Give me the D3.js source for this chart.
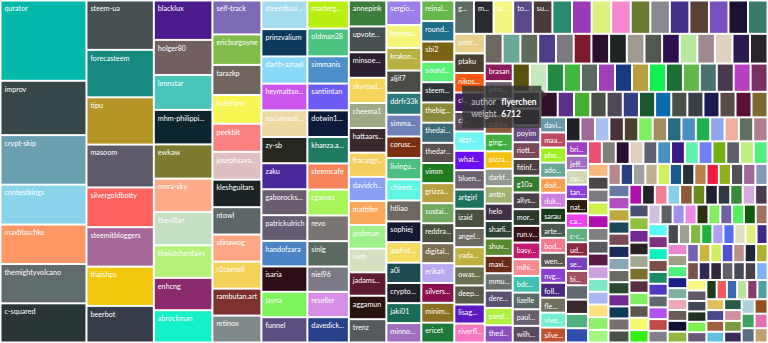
<!DOCTYPE html>
<html>
<head>
<script src="https://d3js.org/d3.v7.min.js"></script>
<style>
body { margin: 0; background: #fff; }
text { font-family: "Segoe UI", Lato, "Open Sans", sans-serif; }
</style>
</head>
<body>
<svg id="chart" width="768" height="343"></svg>
<script>
// label shown in each cell ("" = no label drawn), largest author first
const labels = [
  "qurator","improv","crypt-skip","contestkings","maxblaschke","themightyvolcano","c-squared",
  "steem-ua","forecasteem","tipu","masoom","silvergoldbotty","steemitbloggers","thaishps","beerbot",
  "blacklux","holger80","lennstar","mhm-philippi...","ewkaw","omra-sky","thevillan","thekitchenfairy","enhcng","abrockman",
  "self-track","ericburgoyne","tarazkp","botefarm","peekbit","josephsava...","kleshguitars","ntowl","stinawog","r2cornell","rambutan.art","retinox",
  "steembasi...","prinzvalium","darth-azrael","heymattso...","socialmedi...","zy-sb","zaku","gaborocks...","patrickulrich","handofzara","isaria","jayna","funnel",
  "masterg...","oldman28","simmanis","santiintan","dotwin1...","khanza.a...","steemcafe","cgames","revo","sinlg","niel96","reseller","davedick...",
  "annepink","upvote...","minsoe...","skyroad...","cheema1","hattaars...","fracasgr...","davidch...","mattifer","joshman","iven","jadams...","aggamun","trenz",
  "sergio...","heyims...","krakon...","aljif7","ddrfr33k","simma...","corusc...","livingu...","chireer...","htliao","sophiej","jpphot...","a0i","crypto...","jaki01","minno...",
  "reinal...","round...","sbi2","sound...","steem...","thebig...","thedai...","thedar...","vimm","grizza...","sustai...","reddra...","digital...","erikah","silvers...","minim...","ericet",
  "g...","m...","ar...","to...","su...","","","","","","","","","","","",
  "pedr...","ptaku","nikos...","cl...","cl...","aggr...","what...","bluen...","artgirl","izaid","angel...","yada...","owas...","deep...","lisag...","riverfl...",
  "","","","","","","","","","","","","","","","",
  "brasan","joha...","","zukha","ging...","pizza...","darkf...","anttn","helo","sharli...","shuv...","maxi...","mmu...","dere...","pand...","thed...",
  "","","","","","","","","","","","","","","",
  "","","poyim","riott...","fitinf...","g10a","allys...","mor...","run.v...","basy...","mihi...","bdc...","lizelle","paul...","wilh...",
  "","","","","","","","","","","","","","",
  "davi...","maa...","pbo...","ado...","doif...","duk...","sarau","arte...","bod...","wen...","nvg...","foll...","fle...","vive...","silve...",
  "","","","","","","","","","","","","","",
  "bri...","jeff...","jsp...","tan...","nat...","ca...","c-c...","ud...","se...","bi...","","","",""
];

const weights = [
  103850, 70300, 64110, 51600, 51080, 50830, 50700,
  50050, 48120, 47920, 43470, 40240, 40040, 39830, 37100,
  34720, 30940, 30770, 30410, 30150, 29530, 29270, 28740, 28480, 28480,
  24990, 22490, 22200, 21170, 20730, 20510, 20290, 20140, 19990, 19920, 19850, 19850,
  19800, 18910, 18840, 18490, 18420, 18150, 18010, 17940, 17800, 17660, 17600, 17530, 17530,
  17490, 17370, 16990, 16750, 16620, 16500, 16310, 16190, 16000, 15870, 15810, 15810, 15810,
  14630, 14570, 14400, 14230, 14120, 13890, 13670, 13610, 13500, 13390, 13330, 13220, 13220, 13160,
  12900, 12080, 11920, 11710, 11550, 11450, 11340, 11240, 11130, 11030, 10920, 10820, 10710, 10610, 10500, 10240,
  10200, 10150, 10100, 10100, 10050, 10050, 10000, 10000, 10000, 9950, 9950, 9900, 9900, 9850, 9850, 9850, 9850,
  9850, 9846, 9843, 9838, 9834, 9829, 9825, 9822, 9817, 9812, 9809, 9805, 9800, 9796, 9791, 9787,
  8990, 8970, 8950, 8930, 8910, 8890, 8870, 8850, 8840, 8820, 8800, 8780, 8760, 8740, 8720, 8700,
  7980, 7970, 7960, 7950, 7940, 7930, 7920, 7915, 7905, 7895, 7885, 7875, 7865, 7855, 7845, 7835,
  7400, 7390, 7380, 7370, 7360, 7350, 7345, 7340, 7335, 7330, 7320, 7310, 7300, 7290, 7280, 7270,
  7268, 7262, 7256, 7250, 7244, 7238, 7232, 7226, 7220, 7214, 7208, 7202, 7196, 7190, 7184,
  6960, 6950, 6940, 6935, 6930, 6925, 6920, 6915, 6910, 6905, 6900, 6895, 6890, 6885, 6880,
  6712, 6260, 6250, 6235, 6220, 6210, 6200, 6190, 6180, 6170, 6160, 6150, 6140, 6130,
  5860, 5855, 5850, 5845, 5840, 5830, 5825, 5820, 5815, 5810, 5805, 5800, 5795, 5790, 5780,
  5230, 5225, 5220, 5215, 5210, 5205, 5200, 5195, 5190, 5185, 5180, 5175, 5170, 5165,
  4800, 4795, 4790, 4785, 4780, 4775, 4770, 4768, 4765, 4760, 4755, 4750, 4745, 4740,
  4720, 4715, 4710, 4705, 4702, 4700, 4698, 4695, 4690, 4688, 4685, 4680, 4675,
  3960, 3955, 3950, 3945, 3940, 3935, 3930, 3925, 3920, 3915, 3910, 3905, 3900, 3895,
  3890, 3885, 3880, 3878, 3875, 3870, 3868, 3865, 3860, 3858, 3855, 3850,
  3846, 3842, 3838, 3835, 3830, 3826, 3822, 3818, 3815, 3810, 3806, 3800,
  3790, 3780, 3772, 3761, 3750, 3742, 3731, 3720, 3711, 3700,
  3690, 3681, 3670, 3660, 3652, 3641, 3630, 3621, 3610, 3600,
  3590, 3582, 3571, 3560, 3551, 3540, 3531, 3520, 3510, 3500,
  3492, 3481, 3470, 3460, 3451, 3440, 3430, 3421, 3410, 3400,
  3390, 3381, 3370, 3361, 3350, 3340, 3331, 3320, 3310, 3300,
  3291, 3280, 3270, 3261, 3250, 3240, 3231, 3220, 3210, 3200,
  3191, 3180, 3170, 3160, 3151, 3140, 3130, 3121, 3110, 3100,
  3090, 3081, 3070, 3060, 3051, 3040, 3030, 3021, 3010, 3000,
  2991, 2980, 2970, 2961, 2950, 2940, 2931, 2920, 2910, 2900,
  2891, 2880, 2870, 2861, 2850, 2840, 2831, 2820, 2810, 2800, 2790, 2780
];

// hovered author shown in the tooltip (first cell after the "poyim" column)
const hoverAuthor = "flyerchen";
const hoverIndex = 204;

const colors = [
  "#01b8aa","#374649","#6a9fb0","#8ad4eb","#fe9666","#5f6b6d","#293537",
  "#475052","#168980","#b59525","#5e5a6a","#fd625e","#a66999","#f2c80f","#363c48",
  "#4b1a8c","#706060","#4ac5bb","#0d262e","#7b7a2e","#fdab89","#c4e0c3","#b5f27a","#8c2a6e","#14f0c8",
  "#7d6bb5","#80bd4a","#6f645e","#f7f754","#fb8281","#dfbfbf","#1c2325","#5d6767","#fea784","#f4d25a","#7d3231","#7f898a",
  "#a4ddee","#0d3a5c","#8ad8f8","#cc55ee","#ecd9a3","#262820","#4a2a9a","#6a5d70","#665c72","#4b84c4","#2e0e16","#7cf55a","#5a4f80",
  "#b8ee10","#4cc380","#4c8fc9","#6b5cf5","#0c1a3a","#1f7a62","#f5845a","#a8f55a","#7a7474","#5a6a60","#7a7a86","#d68ee6","#27418a",
  "#3b7d3a","#465050","#2a2030","#f5d65a","#a0a88a","#3a2a2e","#f5d060","#8aa0f5","#fca85a","#9ef08a","#d5e0c0","#5e1a2e","#2a120e","#545a5e",
  "#9a80e8","#f5f57a","#b8b040","#484c44","#2a7a7a","#7080b8","#7a3010","#4ac080","#60f5e0","#6e6860","#141830","#f5da60","#1e4a54","#20202a","#1a6a58","#a070c0",
  "#66b84a","#1e6e8a","#7a6414","#5af07a","#2e3438","#8a8a3a","#3e6a78","#5a5050","#207a20","#b8a040","#70a860","#4a5040","#7a6e50","#b8a8f0","#8a1050","#8a7020","#1e7a3a",
  "#5e6a64","#2a2a30","#f5f580","#5a4888","#4a3a3a","#2a8a70","#9a3ab8","#e0f080","#f588d0","#6a7a30","#8a8890","#45308a","#5a4038","#7850c0","#1a1030","#3a7a6a",
  "#e8d08a","#4a4030","#f55a10","#4a1a6a","#5a4a5a","#70f5f5","#6a10f0","#6a6070","#207060","#4a5040","#6a6a60","#c0b040","#6a7050","#5a5a4a","#5a1ac0","#f578c0",
  "#6e6660","#6aa898","#5e6a5a","#4c3c8a","#7a7a80","#7a1a2a","#2a1030","#1e2424","#a09a90","#505850","#2e1050","#b8e8a0","#a08890","#e0d0c0","#2a1a50","#28242a",
  "#8a1a5a","#6a5a6a","#3a3040","#8a5a3a","#40b040","#f5c010","#909890","#a0b070","#403048","#2a4030","#5a8a30","#6a2a1a","#6a7070","#5a5070","#b0f040","#8a50c0",
  "#5a5010","#c8e8c0","#208a40","#40b840","#5a6a60","#a040b8","#1a3a80","#b8a040","#10f050","#1a7030","#60b848","#4a7070","#4a3850","#b840c0","#7a3060",
  "#4a3a48","#2a1a3a","#6a4a80","#7a4a5a","#4a4040","#3a7a30","#4a4048","#2a3a2a","#3a1018","#c01a70","#f58a90","#40c0b0","#5a6a6a","#6a6070","#5a4a60",
  "#2e1028","#5a3088","#48b030","#4a5048","#504858","#304080","#1a5a30","#0a6ab0","#4a5048","#3a4048","#1a1a50","#5a4a48","#5a1038","#7a6a30",
  "#6a98a8","#c04a60","#a0f020","#6aa898","#f5a050","#d080e0","#1a3a1a","#4a5850","#f57a90","#5a5850","#8a40d0","#4a2a80","#707060","#70f0d0","#c05030",
  "#202028","#a06a98","#a8c0f0","#4a3038","#4a4030","#80f060","#a09060","#2a6a80","#4a90c0","#20b050","#90a8e8","#f0b0a0","#607060","#b08090",
  "#a040c0","#a070c0","#d0d8b0","#8a40e0","#2a2010","#f040f0","#60b080","#8a2a40","#7a40c0","#a05060","#606870","#3a2a30","#50b080","#3050b0",
  "#f05070","#808078","#2a1030","#e0d0c0","#606070","#4a90c0","#3a1a80","#60f0b0","#7080f0","#70b010","#606068","#c0f080","#50f080",
  "#f8b880","#4a4646","#7a7a80","#d0f050","#b010b0","#808080","#5a5a60","#5a1a48","#d0a0e0","#80e8c8","#a8b8f0","#fde080","#90f070","#a0f880",
  "#b88890","#284080","#a0a0a0","#c0b090","#d0f060","#1a5a8a","#2a3038","#b8804a","#f01a40","#90b020","#505058","#a06a98",
  "#8898b8","#6878a8","#b050c0","#c0a840","#1a4a5a","#7a4a58","#1a2a5a","#88a8b8","#6a6a60","#2a4a30","#702a90","#103a5a",
  "#787070","#4a5048","#b010b0","#222428","#f08098","#88d0e8","#8a5a3a","#6a8a20","#202030","#303840","#3a8a3a",
  "#d8a8e0","#4a3a50","#4a5070","#90c040","#702a90","#2a2020","#a0a890","#7a7030","#5a3040","#80f060","#5a5850",
  "#f8f870","#30f010","#d0c0e0","#606068","#a090e8","#f088e0","#2a3010","#80f060","#7060a0","#50f060",
  "#105a10","#a07060","#58f8f8","#803080","#10f0c0","#7a5048","#208a68","#5038c0","#606870","#b050f0",
  "#c04848","#808088","#484850","#a0a090","#80b840","#20b040","#b0a0f0","#5070f0","#e0e0c0","#e0f080",
  "#402888","#e888d0","#a0a088","#50f080","#182088","#80b0a0","#f0a8b8","#6a5a58","#101030","#90b840",
  "#7860b0","#c8b840","#d0f060","#5050d0","#b89088","#202838","#b0b030","#7a5048","#302858","#302838",
  "#606068","#484858","#484048","#80b0f8","#f8f880","#605868","#404858","#203020","#80f050","#6a5a78",
  "#1a3a1a","#f05a5a","#3a6ab0","#c0e0a0","#8a3a6a","#50a0a0","#e0c060","#4a4a8a","#a06040","#60c0e0",
  "#2a5a4a","#d090a0","#7a9a40","#3a2a5a","#b0d0e0","#905020","#40a060","#e070b0","#5a7080","#c0a070"
];

const width = 768, height = 343;
const svg = d3.select("#chart");

const items = weights.map((w, i) => ({ i: i, label: labels[i] || "", value: w }));
const root = d3.hierarchy({ children: items }).sum(d => d.value || 0);

d3.treemap()
  .size([width, height])
  .paddingOuter(1.5)
  .paddingInner(2)
  (root);

const leaves = root.leaves();

const cell = svg.selectAll("g.cell")
  .data(leaves)
  .join("g")
  .attr("class", "cell")
  .attr("transform", d => `translate(${d.x0},${d.y0})`);

cell.append("rect")
  .attr("width", d => Math.max(0, d.x1 - d.x0))
  .attr("height", d => Math.max(0, d.y1 - d.y0))
  .attr("fill", d => colors[d.data.i % colors.length]);

cell.filter(d => d.data.label)
  .append("text")
  .attr("x", 3)
  .attr("y", 9.8)
  .attr("fill", "#fff")
  .style("font-size", "7.2px")
  .text(d => d.data.label)
  .each(function(d) {
    // keep the label inside its cell
    const maxW = d.x1 - d.x0 - 3;
    let t = d.data.label;
    const el = d3.select(this);
    while (this.getComputedTextLength() > maxW && t.length > 1) {
      t = t.replace(/\.\.\.$/, "").slice(0, -1);
      el.text(t + "...");
    }
  });

// tooltip
const hov = leaves.find(d => d.data.i === hoverIndex);
const tipX = hov.x0 + 6, tipY = hov.y0 + 1;
const tip = svg.append("g").attr("transform", `translate(${tipX - 85},${tipY - 8})`);
tip.append("path")
  .attr("d", "M0,0 H79 V4 L85,9 L79,14 V42 H0 Z")
  .attr("fill", "#333")
  .attr("fill-opacity", 0.82);
tip.append("text").attr("x", 9).attr("y", 19).attr("fill", "#c8c8c8").style("font-size", "8.5px").text("author");
tip.append("text").attr("x", 39).attr("y", 19).attr("fill", "#fff").style("font-size", "8.5px").style("font-weight", "bold").text(hoverAuthor);
tip.append("text").attr("x", 9).attr("y", 31).attr("fill", "#c8c8c8").style("font-size", "8.5px").text("weight");
tip.append("text").attr("x", 39).attr("y", 31).attr("fill", "#fff").style("font-size", "8.5px").style("font-weight", "bold").text(weights[hoverIndex]);
</script>
</body>
</html>
